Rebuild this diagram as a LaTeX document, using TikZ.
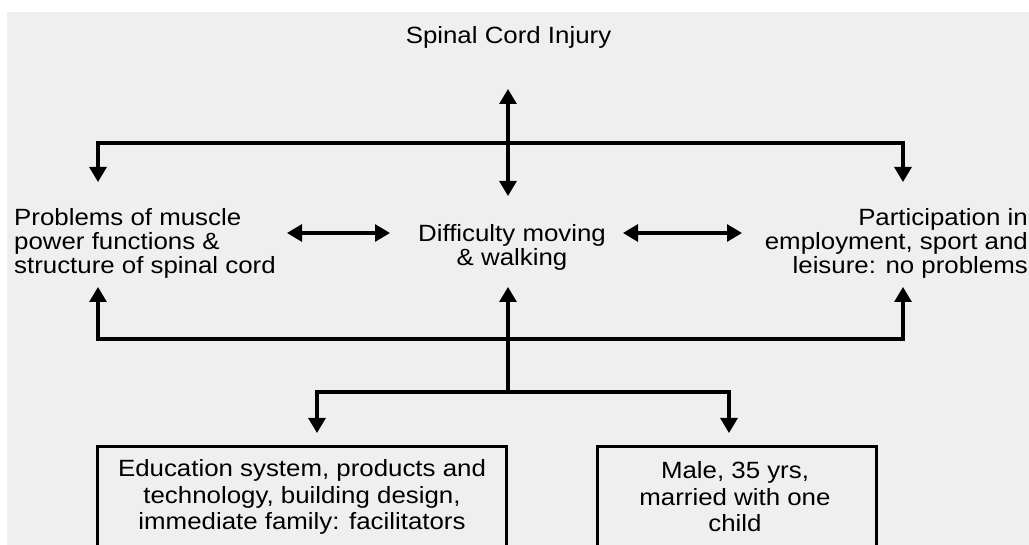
\documentclass[tikz,border=0pt]{standalone}
\usepackage{fontspec}
\setmainfont{Liberation Sans}[FakeStretch=1.1]
\usetikzlibrary{arrows.meta}
\definecolor{panel}{RGB}{239,239,239}
\begin{document}
\begin{tikzpicture}[x=1pt,y=-1pt,
  link/.style={line width=3.1pt,black,line join=miter},
  tip/.style={-{Triangle[width=17pt,length=15pt]}},
  twotip/.style={{Triangle[width=17pt,length=15pt]}-{Triangle[width=17pt,length=15pt]}},
  label/.style={inner sep=0pt,font=\fontsize{23.5}{24}\selectfont},
  boxtext/.style={inner sep=0pt,align=center,font=\fontsize{23.5}{26.5}\selectfont},
  frame/.style={draw=black,line width=2.6pt,inner sep=0pt,anchor=north west}]
  % page and grey panel
  \useasboundingbox (0,0) rectangle (1029,545);
  \clip (0,0) rectangle (1029,545);
  \fill[white] (0,0) rectangle (1029,545);
  \fill[panel] (7,12) rectangle (1029,545);

  % texts
  \node[label] (sci) at (508.5,37) {Spinal Cord Injury};
  \node[label,align=left,anchor=west] (body) at (14,243)
    {Problems of muscle\\power functions \&\\structure of spinal cord};
  \node[label,align=center] (act) at (512,247.5) {Difficulty moving\\\& walking};
  \node[label,align=right,anchor=east] (part) at (1028,243)
    {Participation in\\employment, sport and\\leisure: no problems};

  % boxes for the contextual factors
  \node[frame,minimum width=409pt,minimum height=160pt] (envbox) at (96,445) {};
  \node[frame,minimum width=279pt,minimum height=160pt] (perbox) at (596,445) {};
  \node[boxtext] (env) at (302,497)
    {Education system, products and\\technology, building design,\\immediate family: facilitators};
  \node[boxtext] (per) at (735,497) {Male, 35 yrs,\\married with one\\child};

  % junction points
  \coordinate (ctop) at (508,89);
  \coordinate (cbot) at (508,196);
  \coordinate (topbar) at (508,143);
  \coordinate (ltop) at (98,182);
  \coordinate (rtop) at (903,182);
  \coordinate (lbot) at (98,287);
  \coordinate (rbot) at (903,287);
  \coordinate (cup) at (508,287);
  \coordinate (botbar) at (508,339);
  \coordinate (branch) at (508,392);
  \coordinate (envtip) at (317,433);
  \coordinate (pertip) at (729,433);
  \coordinate (ba) at (287,233);
  \coordinate (bb) at (390,233);
  \coordinate (pa) at (623,233);
  \coordinate (pb) at (742,233);

  % connectors
  \draw[link,twotip] (cbot) -- (ctop);
  \draw[link,twotip] (ltop) |- (topbar) -| (rtop);
  \draw[link,twotip] (lbot) |- (botbar) -| (rbot);
  \draw[link,tip] (branch) -- (cup);
  \draw[link,twotip] (envtip) |- (branch) -| (pertip);
  \draw[link,twotip] (ba) -- (bb);
  \draw[link,twotip] (pa) -- (pb);
\end{tikzpicture}
\end{document}
